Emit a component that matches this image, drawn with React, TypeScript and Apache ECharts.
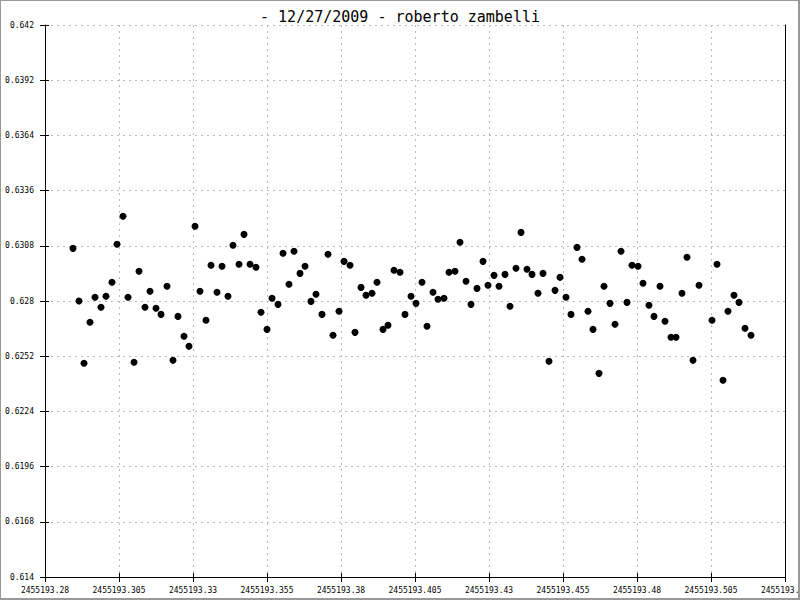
import React, { useEffect, useRef } from "react";
import * as echarts from "echarts";

const titleText = "- 12/27/2009 - roberto zambelli";

const jd: number[] = [
  2455193.28946, 2455193.29149, 2455193.29318, 2455193.2952, 2455193.29689, 2455193.29892, 2455193.30061, 2455193.30264,
  2455193.30432, 2455193.30635, 2455193.30804, 2455193.31007, 2455193.31176, 2455193.31378, 2455193.31547, 2455193.3175,
  2455193.31919, 2455193.32122, 2455193.32324, 2455193.32493, 2455193.32696, 2455193.32865, 2455193.33068, 2455193.33236,
  2455193.33439, 2455193.33608, 2455193.33811, 2455193.3398, 2455193.34182, 2455193.34351, 2455193.34554, 2455193.34723,
  2455193.34926, 2455193.35128, 2455193.35297, 2455193.355, 2455193.35669, 2455193.35872, 2455193.36041, 2455193.36243,
  2455193.36412, 2455193.36615, 2455193.36784, 2455193.36986, 2455193.37155, 2455193.37358, 2455193.37561, 2455193.3773,
  2455193.37932, 2455193.38101, 2455193.38304, 2455193.38473, 2455193.38676, 2455193.38845, 2455193.39047, 2455193.39216,
  2455193.39419, 2455193.39588, 2455193.39791, 2455193.39993, 2455193.40162, 2455193.40365, 2455193.40534, 2455193.40736,
  2455193.40905, 2455193.41108, 2455193.41277, 2455193.4148, 2455193.41649, 2455193.41851, 2455193.4202, 2455193.42223,
  2455193.42392, 2455193.42595, 2455193.42797, 2455193.42966, 2455193.43169, 2455193.43338, 2455193.43541, 2455193.43709,
  2455193.43912, 2455193.44081, 2455193.44284, 2455193.44453, 2455193.44655, 2455193.44824, 2455193.45027, 2455193.4523,
  2455193.45399, 2455193.45601, 2455193.4577, 2455193.45973, 2455193.46142, 2455193.46345, 2455193.46514, 2455193.46716,
  2455193.46885, 2455193.47088, 2455193.47257, 2455193.47459, 2455193.47662, 2455193.47831, 2455193.48034, 2455193.48203,
  2455193.48405, 2455193.48574, 2455193.48777, 2455193.48946, 2455193.49149, 2455193.49318, 2455193.4952, 2455193.49689,
  2455193.49892, 2455193.50095, 2455193.50534, 2455193.50703, 2455193.50905, 2455193.51074, 2455193.51277, 2455193.51446,
  2455193.51649, 2455193.51851,
];

const mag: number[] = [
  0.63067, 0.628, 0.62484, 0.62692, 0.62819, 0.62768, 0.62824, 0.62895, 0.63088, 0.6323,
  0.62819, 0.62489, 0.62951, 0.62768, 0.62849, 0.62763, 0.62732, 0.62875, 0.62499, 0.62722,
  0.62621, 0.6257, 0.63179, 0.62849, 0.62702, 0.62981, 0.62844, 0.62976, 0.62824, 0.63083,
  0.62986, 0.63138, 0.62986, 0.62971, 0.62743, 0.62656, 0.62814, 0.62783, 0.63042, 0.62885,
  0.63052, 0.6294, 0.62976, 0.62798, 0.62834, 0.62732, 0.63037, 0.62626, 0.62748, 0.63001,
  0.62981, 0.62641, 0.62869, 0.62829, 0.62839, 0.62895, 0.62656, 0.62677, 0.62956, 0.62946,
  0.62732, 0.62824, 0.62788, 0.62895, 0.62672, 0.62844, 0.62809, 0.62814, 0.62946, 0.62951,
  0.63098, 0.629, 0.62783, 0.62864, 0.63001, 0.6288, 0.6293, 0.62875, 0.62935, 0.62773,
  0.62966, 0.63148, 0.62961, 0.62935, 0.62839, 0.6294, 0.62494, 0.62854, 0.6292, 0.62819,
  0.62732, 0.63072, 0.63012, 0.62748, 0.62656, 0.62433, 0.62875, 0.62788, 0.62682, 0.63052,
  0.62793, 0.62981, 0.62976, 0.6289, 0.62778, 0.62722, 0.62875, 0.62697, 0.62616, 0.62616,
  0.62839, 0.63022, 0.62499, 0.6288, 0.62702, 0.62986, 0.62398, 0.62748, 0.62829, 0.62793,
  0.62662, 0.62626,
];

const xMin = 2455193.28;
const xMax = 2455193.53;
const xStep = 0.025;
const yMin = 0.614;
const yMax = 0.642;
const yStep = 0.0028;

const FONT = "DejaVu Sans Mono";

const fmt = (v: number, d: number) => String(parseFloat(v.toFixed(d)));

export default function App() {
  const ref = useRef<HTMLDivElement>(null);

  useEffect(() => {
    if (!ref.current) return;
    const chart = echarts.init(ref.current, undefined, { renderer: "svg" });
    const gridPos = { left: 45, right: 15, top: 25, bottom: 23, containLabel: false, outerBoundsMode: "none" };
    const dash = { color: "#bbbbbb", type: [2, 4] as any, width: 1 };
    const data = jd.map((x, i) => [x, mag[i]]);
    chart.setOption({
      animation: false,
      backgroundColor: "#ffffff",
      title: {
        text: titleText,
        left: "center",
        top: 4,
        textStyle: { fontFamily: FONT, fontSize: 15, fontWeight: "normal", color: "#000" },
      },
      grid: [{ ...gridPos }, { ...gridPos }],
      xAxis: [
        {
          type: "value",
          gridIndex: 0,
          position: "bottom",
          min: xMin,
          max: xMax,
          interval: xStep,
          axisLine: { show: true, onZero: false, lineStyle: { color: "#000", width: 1 } },
          axisTick: { show: true, inside: false, length: 5, lineStyle: { color: "#000" } },
          axisLabel: {
            show: true,
            margin: 9,
            fontFamily: FONT,
            fontSize: 8,
            color: "#000",
            formatter: (v: number) => fmt(v, 3),
            showMaxLabel: true,
            showMinLabel: true,
            hideOverlap: false,
          },
          splitLine: { show: true, showMinLine: false, showMaxLine: false, lineStyle: dash },
        },
        {
          type: "value",
          gridIndex: 1,
          position: "bottom",
          min: xMin,
          max: xMax,
          interval: xStep,
          axisLine: { show: false, onZero: false },
          axisTick: { show: true, inside: true, length: 4, lineStyle: { color: "#000" } },
          axisLabel: { show: false },
          splitLine: { show: false },
        },
      ],
      yAxis: [
        {
          type: "value",
          gridIndex: 0,
          position: "left",
          min: yMin,
          max: yMax,
          interval: yStep,
          axisLine: { show: true, onZero: false, lineStyle: { color: "#000", width: 1 } },
          axisTick: { show: true, inside: false, length: 5, lineStyle: { color: "#000" } },
          axisLabel: {
            show: true,
            margin: 11,
            fontFamily: FONT,
            fontSize: 8,
            color: "#000",
            formatter: (v: number) => fmt(v, 4),
            showMaxLabel: true,
            showMinLabel: true,
          },
          splitLine: { show: true, showMinLine: false, showMaxLine: true, lineStyle: dash },
        },
        {
          type: "value",
          gridIndex: 0,
          position: "right",
          min: yMin,
          max: yMax,
          interval: yStep,
          axisLine: { show: true, onZero: false, lineStyle: { color: "#000", width: 1 } },
          axisTick: { show: false },
          axisLabel: { show: false },
          splitLine: { show: false },
        },
        {
          type: "value",
          gridIndex: 1,
          position: "left",
          min: yMin,
          max: yMax,
          interval: yStep,
          axisLine: { show: false, onZero: false },
          axisTick: { show: true, inside: true, length: 4, lineStyle: { color: "#000" } },
          axisLabel: { show: false },
          splitLine: { show: false },
        },
      ],
      series: [
        {
          type: "scatter",
          xAxisIndex: 0,
          yAxisIndex: 0,
          data,
          symbol: "circle",
          symbolSize: 7,
          z: 10,
          itemStyle: { color: "#000", opacity: 1 },
          emphasis: { disabled: true },
        },
      ],
    });
    return () => chart.dispose();
  }, []);

  return (
    <div style={{ position: "fixed", left: 0, top: 0, width: 800, height: 600 }}>
      <div ref={ref} style={{ position: "absolute", left: 0, top: 0, width: 800, height: 600 }} />
      <div
        style={{
          position: "absolute",
          left: 0,
          top: 0,
          width: 800,
          height: 600,
          boxSizing: "border-box",
          borderLeft: "1px solid #999",
          borderTop: "1px solid #999",
          borderRight: "2px solid #999",
          borderBottom: "2px solid #999",
          pointerEvents: "none",
        }}
      />
    </div>
  );
}
